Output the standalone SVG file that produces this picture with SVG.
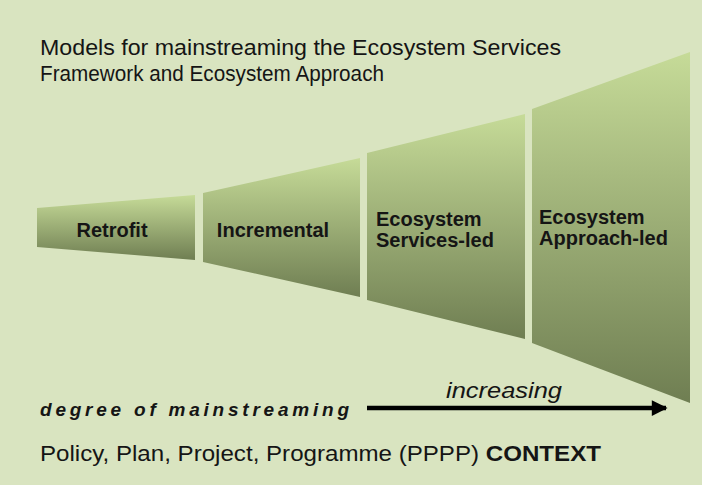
<svg xmlns="http://www.w3.org/2000/svg" width="702" height="485" viewBox="0 0 702 485">
<defs>
<linearGradient id="g" x1="0" y1="0" x2="0" y2="1">
<stop offset="0" stop-color="#c6db98"/>
<stop offset="1" stop-color="#6f7e52"/>
</linearGradient>
<marker id="ah" viewBox="0 0 10 10" refX="9" refY="5" markerWidth="4" markerHeight="3.5" markerUnits="strokeWidth" orient="auto">
<path d="M0,0 L10,5 L0,10 z" fill="#000"/>
</marker>
<style>
.seg{fill:url(#g);}
.lbl{font-family:"Liberation Sans",Arial,sans-serif;font-weight:bold;font-size:20px;fill:#151515;}
.t{font-family:"Liberation Sans",Arial,sans-serif;fill:#151515;}
</style>
</defs>
<rect x="0" y="0" width="702" height="485" fill="#d9e4c0"/>
<g id="title">
<text class="t" x="40" y="55" font-size="22" textLength="521" lengthAdjust="spacingAndGlyphs">Models for mainstreaming the Ecosystem Services</text>
<text class="t" x="40" y="81" font-size="22" textLength="344" lengthAdjust="spacingAndGlyphs">Framework and Ecosystem Approach</text>
</g>
<g id="retrofit">
<polygon class="seg" points="37,208 195,195 195,260 37,247"/>
<text class="lbl" x="112" y="237" text-anchor="middle">Retrofit</text>
</g>
<g id="incremental">
<polygon class="seg" points="203,193 360,158 360,297 203,262"/>
<text class="lbl" x="273" y="237" text-anchor="middle">Incremental</text>
</g>
<g id="es-led">
<polygon class="seg" points="367,153 525,114 525,339 367,300"/>
<text class="lbl" x="376" y="226">Ecosystem</text>
<text class="lbl" x="376" y="247">Services-led</text>
</g>
<g id="ea-led">
<polygon class="seg" points="532,109 690,52 690,403 532,343"/>
<text class="lbl" x="539" y="224">Ecosystem</text>
<text class="lbl" x="539" y="245">Approach-led</text>
</g>
<g id="connectors">
<line x1="367" y1="408" x2="666" y2="408" stroke="#000" stroke-width="4.5" marker-end="url(#ah)"/>
</g>
<g id="axis">
<text class="t" x="40" y="416" font-size="19" font-weight="bold" font-style="italic" textLength="309" lengthAdjust="spacing">degree of mainstreaming</text>
<text class="t" x="446" y="398" font-size="22" font-style="italic" fill="#222" textLength="116" lengthAdjust="spacingAndGlyphs">increasing</text>
</g>
<g id="context">
<text class="t" x="40" y="461" font-size="22" textLength="561" lengthAdjust="spacingAndGlyphs">Policy, Plan, Project, Programme (PPPP) <tspan font-weight="bold">CONTEXT</tspan></text>
</g>
</svg>
